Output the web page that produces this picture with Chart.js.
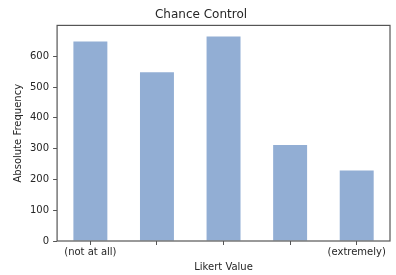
<!DOCTYPE html>
<html>
<head>
<meta charset="utf-8">
<script src="https://cdn.jsdelivr.net/npm/chart.js@4"></script>
<style>
  html, body { margin: 0; padding: 0; background: #fff; }
</style>
</head>
<body>
<canvas id="chanceControlChart" width="396" height="275"></canvas>
<script>
// values
var categories = ['(not at all)', '', '', '', '(extremely)'];
var frequencies = [648, 548, 664, 312, 229];
var yTicks = [0, 100, 200, 300, 400, 500, 600];

var frameColor = '#555555';
var textColor = '#262626';

// draw the full box round the plot, like matplotlib spines
var framePlugin = {
    id: 'frame',
    afterDatasetsDraw: function(chart) {
        var a = chart.chartArea;
        var ctx = chart.ctx;
        ctx.save();
        ctx.strokeStyle = frameColor;
        ctx.lineWidth = 1.2;
        ctx.strokeRect(a.left, a.top, a.right - a.left, a.bottom - a.top);
        ctx.restore();
    }
};

const dt = {
    labels: categories,
    datasets: [{
        label: 'Absolute Frequency',
        data: frequencies,
        backgroundColor: 'rgb(146,174,212)',
        borderWidth: 0,
        barPercentage: 0.51,
        categoryPercentage: 1.0
    }]
};

const config_chance_control = {
    type: 'bar',
    data: dt,
    options: {
        responsive: false,
        animation: false,
        layout: { padding: { left: 12, right: 6, top: 0, bottom: 0 } },
        plugins: {
            legend: { display: false },
            tooltip: { enabled: false },
            title: {
                display: true,
                text: 'Chance Control',
                color: textColor,
                font: { family: 'DejaVu Sans', size: 12, weight: 'normal' },
                padding: { top: 8, bottom: 3 }
            }
        },
        scales: {
            x: {
                offset: true,
                grid: { display: true, drawOnChartArea: false, offset: false, tickLength: 4, color: frameColor },
                border: { display: false },
                ticks: { color: textColor, font: { family: 'DejaVu Sans', size: 10 }, maxRotation: 0, autoSkip: false, padding: 1 },
                title: {
                    display: true,
                    text: 'Likert Value',
                    color: textColor,
                    font: { family: 'DejaVu Sans', size: 10 },
                    padding: { top: 2, bottom: 2 }
                }
            },
            y: {
                min: 0,
                max: 700,
                afterBuildTicks: function(scale) {
                    scale.ticks = yTicks.map(function(v) { return { value: v }; });
                },
                grid: { display: true, drawOnChartArea: false, tickLength: 4, color: frameColor },
                border: { display: false },
                ticks: { color: textColor, font: { family: 'DejaVu Sans', size: 10 }, padding: 4 },
                title: {
                    display: true,
                    text: 'Absolute Frequency',
                    color: textColor,
                    font: { family: 'DejaVu Sans', size: 10 },
                    padding: { top: 0, bottom: 2 }
                }
            }
        }
    },
    plugins: [framePlugin]
};

const chance_control_chart = new Chart(
    document.getElementById('chanceControlChart'),
    config_chance_control
);
</script>
</body>
</html>
